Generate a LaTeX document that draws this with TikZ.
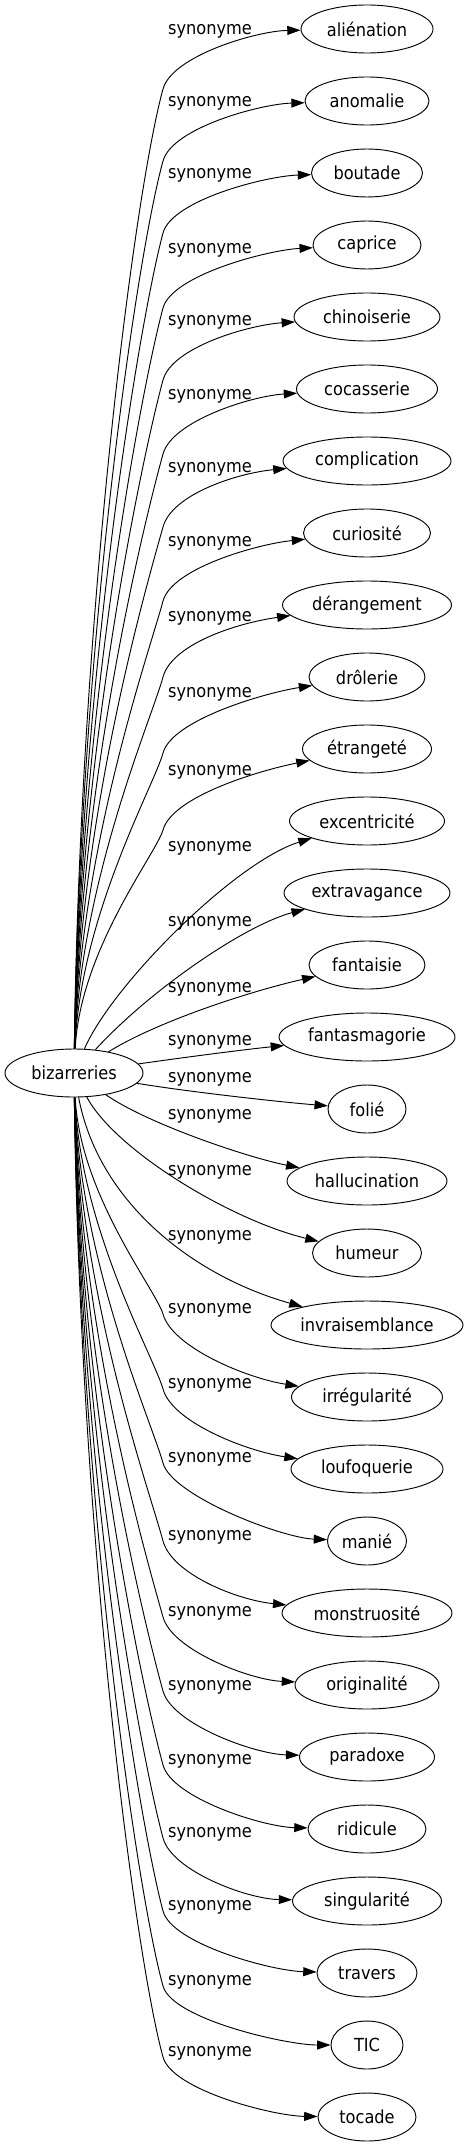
\documentclass[tikz,border=0pt]{standalone}
\usepackage{fontspec}
\setmainfont{DejaVu Sans Condensed}
\usetikzlibrary{arrows.meta,shapes.geometric}
\tikzset{
  word/.style={draw, ellipse, line width=0.7pt, minimum height=36pt, inner sep=0pt},
  lbl/.style={inner sep=0pt},
  syn/.style={-{Triangle[length=10pt,width=6.7pt]}, line width=0.7pt},
}
\begin{document}
\begin{tikzpicture}[x=0.75pt,y=-0.75pt,font=\fontsize{13.5}{16}\selectfont]
\useasboundingbox (0,0) rectangle (472,2147);
% source word
\node[word, minimum width=103.5pt] (bizarreries) at (74,1073) {bizarreries};
% synonyms
\node[word, minimum width=99pt] (alienation) at (367,29) {aliénation};
\node[word, minimum width=93pt] (anomalie) at (367,101) {anomalie};
\node[word, minimum width=83.25pt] (boutade) at (367,173) {boutade};
\node[word, minimum width=81pt] (caprice) at (367,245) {caprice};
\node[word, minimum width=109.5pt] (chinoiserie) at (367,317) {chinoiserie};
\node[word, minimum width=105.75pt] (cocasserie) at (367,389) {cocasserie};
\node[word, minimum width=126pt] (complication) at (367,461) {complication};
\node[word, minimum width=95.25pt] (curiosite) at (367,533) {curiosité};
\node[word, minimum width=126.75pt] (derangement) at (367,605) {dérangement};
\node[word, minimum width=87pt] (drolerie) at (367,677) {drôlerie};
\node[word, minimum width=96.75pt] (etrangete) at (367,749) {étrangeté};
\node[word, minimum width=116.25pt] (excentricite) at (367,821) {excentricité};
\node[word, minimum width=124.5pt] (extravagance) at (367,893) {extravagance};
\node[word, minimum width=87pt] (fantaisie) at (367,965) {fantaisie};
\node[word, minimum width=132pt] (fantasmagorie) at (367,1037) {fantasmagorie};
\node[word, minimum width=58.5pt] (folie) at (367,1109) {folié};
\node[word, minimum width=120pt] (hallucination) at (367,1181) {hallucination};
\node[word, minimum width=81.75pt] (humeur) at (367,1253) {humeur};
\node[word, minimum width=144pt] (invraisemblance) at (367,1325) {invraisemblance};
\node[word, minimum width=113.25pt] (irregularite) at (367,1397) {irrégularité};
\node[word, minimum width=114pt] (loufoquerie) at (367,1469) {loufoquerie};
\node[word, minimum width=59.25pt] (manie) at (367,1541) {manié};
\node[word, minimum width=127.5pt] (monstruosite) at (367,1613) {monstruosité};
\node[word, minimum width=108pt] (originalite) at (367,1685) {originalité};
\node[word, minimum width=101.25pt] (paradoxe) at (367,1757) {paradoxe};
\node[word, minimum width=88.5pt] (ridicule) at (367,1829) {ridicule};
\node[word, minimum width=111.75pt] (singularite) at (367,1901) {singularité};
\node[word, minimum width=75pt] (travers) at (367,1973) {travers};
\node[word, minimum width=54pt] (tic) at (367,2045) {TIC};
\node[word, minimum width=73.5pt] (tocade) at (367,2117) {tocade};
% edge labels
\node[lbl] (l-alienation) at (210,31) {synonyme};
\node[lbl] (l-anomalie) at (210,103) {synonyme};
\node[lbl] (l-boutade) at (210,175) {synonyme};
\node[lbl] (l-caprice) at (210,250) {synonyme};
\node[lbl] (l-chinoiserie) at (210,322) {synonyme};
\node[lbl] (l-cocasserie) at (210,396) {synonyme};
\node[lbl] (l-complication) at (210,469) {synonyme};
\node[lbl] (l-curiosite) at (210,543) {synonyme};
\node[lbl] (l-derangement) at (210,618) {synonyme};
\node[lbl] (l-drolerie) at (210,694) {synonyme};
\node[lbl] (l-etrangete) at (210,772) {synonyme};
\node[lbl] (l-excentricite) at (210,848) {synonyme};
\node[lbl] (l-extravagance) at (210,923) {synonyme};
\node[lbl] (l-fantaisie) at (210,989) {synonyme};
\node[lbl] (l-fantasmagorie) at (210,1042) {synonyme};
\node[lbl] (l-folie) at (210,1079) {synonyme};
\node[lbl] (l-hallucination) at (210,1116) {synonyme};
\node[lbl] (l-humeur) at (210,1172) {synonyme};
\node[lbl] (l-invraisemblance) at (210,1237) {synonyme};
\node[lbl] (l-irregularite) at (210,1310) {synonyme};
\node[lbl] (l-loufoquerie) at (210,1385) {synonyme};
\node[lbl] (l-manie) at (210,1459) {synonyme};
\node[lbl] (l-monstruosite) at (210,1537) {synonyme};
\node[lbl] (l-originalite) at (210,1613) {synonyme};
\node[lbl] (l-paradoxe) at (210,1687) {synonyme};
\node[lbl] (l-ridicule) at (210,1761) {synonyme};
\node[lbl] (l-singularite) at (210,1834) {synonyme};
\node[lbl] (l-travers) at (210,1907) {synonyme};
\node[lbl] (l-tic) at (210,1982) {synonyme};
\node[lbl] (l-tocade) at (210,2053) {synonyme};
% edges going up
\draw[syn] (bizarreries) .. controls (80,617) and (134,195) .. (163,89) .. controls (172,56) and (256,31) .. (alienation);
\draw[syn] (bizarreries) .. controls (80,649) and (136,259) .. (163,161) .. controls (172,128) and (260,104) .. (anomalie);
\draw[syn] (bizarreries) .. controls (80,682) and (139,323) .. (163,233) .. controls (172,200) and (266,176) .. (boutade);
\draw[syn] (bizarreries) .. controls (80,716) and (141,390) .. (163,308) .. controls (172,275) and (268,250) .. (caprice);
\draw[syn] (bizarreries) .. controls (80,748) and (143,454) .. (163,380) .. controls (172,347) and (249,325) .. (chinoiserie);
\draw[syn] (bizarreries) .. controls (80,781) and (145,519) .. (163,454) .. controls (172,421) and (251,396) .. (cocasserie);
\draw[syn] (bizarreries) .. controls (80,814) and (147,584) .. (163,527) .. controls (172,494) and (238,473) .. (complication);
\draw[syn] (bizarreries) .. controls (80,847) and (150,650) .. (163,601) .. controls (172,568) and (258,544) .. (curiosite);
\draw[syn] (bizarreries) .. controls (80,882) and (152,718) .. (163,677) .. controls (172,644) and (237,623) .. (derangement);
\draw[syn] (bizarreries) .. controls (80,916) and (154,786) .. (163,753) .. controls (172,720) and (264,693) .. (drolerie);
\draw[syn] (bizarreries) .. controls (80,950) and (156,854) .. (163,830) .. controls (172,797) and (257,771) .. (etrangete);
% edges near the middle
\draw[syn] (bizarreries) .. controls (112,985) and (235,862) .. (excentricite);
\draw[syn] (bizarreries) .. controls (150,990) and (245,925) .. (extravagance);
\draw[syn] (bizarreries) .. controls (160,1020) and (255,990) .. (fantaisie);
\draw[syn] (bizarreries) .. controls (180,1058) and (240,1050) .. (fantasmagorie);
\draw[syn] (bizarreries) .. controls (190,1092) and (280,1102) .. (folie);
\draw[syn] (bizarreries) .. controls (150,1125) and (250,1158) .. (hallucination);
\draw[syn] (bizarreries) .. controls (115,1150) and (230,1220) .. (humeur);
\draw[syn] (bizarreries) .. controls (98,1200) and (190,1275) .. (invraisemblance);
% edges going down
\draw[syn] (bizarreries) .. controls (80,1195) and (156,1290) .. (163,1314) .. controls (172,1347) and (246,1378) .. (irregularite);
\draw[syn] (bizarreries) .. controls (80,1228) and (154,1357) .. (163,1389) .. controls (172,1422) and (246,1451) .. (loufoquerie);
\draw[syn] (bizarreries) .. controls (80,1262) and (152,1423) .. (163,1463) .. controls (172,1496) and (282,1538) .. (manie);
\draw[syn] (bizarreries) .. controls (80,1297) and (150,1492) .. (163,1541) .. controls (172,1574) and (237,1600) .. (monstruosite);
\draw[syn] (bizarreries) .. controls (80,1331) and (147,1560) .. (163,1617) .. controls (172,1650) and (250,1680) .. (originalite);
\draw[syn] (bizarreries) .. controls (80,1364) and (145,1626) .. (163,1691) .. controls (172,1724) and (254,1754) .. (paradoxe);
\draw[syn] (bizarreries) .. controls (80,1398) and (143,1692) .. (163,1765) .. controls (172,1798) and (263,1827) .. (ridicule);
\draw[syn] (bizarreries) .. controls (80,1430) and (141,1756) .. (163,1838) .. controls (172,1871) and (247,1899) .. (singularite);
\draw[syn] (bizarreries) .. controls (80,1463) and (139,1821) .. (163,1911) .. controls (172,1944) and (272,1971) .. (travers);
\draw[syn] (bizarreries) .. controls (80,1497) and (136,1888) .. (163,1986) .. controls (172,2019) and (286,2045) .. (tic);
\draw[syn] (bizarreries) .. controls (80,1529) and (134,1951) .. (163,2057) .. controls (172,2090) and (273,2116) .. (tocade);
\end{tikzpicture}
\end{document}
